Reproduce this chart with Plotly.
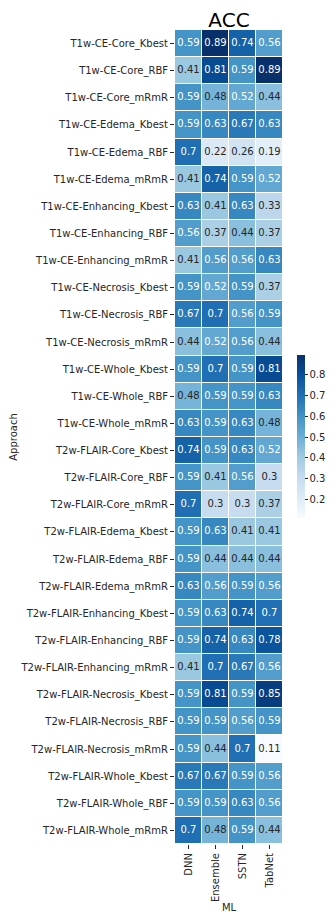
import plotly.graph_objects as go
import plotly.colors as pc

models = ["DNN", "Ensemble", "SSTN", "TabNet"]
approaches = [
    "T1w-CE-Core_Kbest", "T1w-CE-Core_RBF", "T1w-CE-Core_mRmR",
    "T1w-CE-Edema_Kbest", "T1w-CE-Edema_RBF", "T1w-CE-Edema_mRmR",
    "T1w-CE-Enhancing_Kbest", "T1w-CE-Enhancing_RBF", "T1w-CE-Enhancing_mRmR",
    "T1w-CE-Necrosis_Kbest", "T1w-CE-Necrosis_RBF", "T1w-CE-Necrosis_mRmR",
    "T1w-CE-Whole_Kbest", "T1w-CE-Whole_RBF", "T1w-CE-Whole_mRmR",
    "T2w-FLAIR-Core_Kbest", "T2w-FLAIR-Core_RBF", "T2w-FLAIR-Core_mRmR",
    "T2w-FLAIR-Edema_Kbest", "T2w-FLAIR-Edema_RBF", "T2w-FLAIR-Edema_mRmR",
    "T2w-FLAIR-Enhancing_Kbest", "T2w-FLAIR-Enhancing_RBF", "T2w-FLAIR-Enhancing_mRmR",
    "T2w-FLAIR-Necrosis_Kbest", "T2w-FLAIR-Necrosis_RBF", "T2w-FLAIR-Necrosis_mRmR",
    "T2w-FLAIR-Whole_Kbest", "T2w-FLAIR-Whole_RBF", "T2w-FLAIR-Whole_mRmR",
]
dnn = [0.59, 0.41, 0.59, 0.59, 0.7, 0.41, 0.63, 0.56, 0.41, 0.59, 0.67, 0.44, 0.59, 0.48, 0.63,
       0.74, 0.59, 0.7, 0.59, 0.59, 0.63, 0.59, 0.59, 0.41, 0.59, 0.59, 0.59, 0.67, 0.59, 0.7]
ensemble = [0.89, 0.81, 0.48, 0.63, 0.22, 0.74, 0.41, 0.37, 0.56, 0.52, 0.7, 0.52, 0.7, 0.59, 0.59,
            0.59, 0.41, 0.3, 0.63, 0.44, 0.56, 0.63, 0.74, 0.7, 0.81, 0.59, 0.44, 0.67, 0.59, 0.48]
sstn = [0.74, 0.59, 0.52, 0.67, 0.26, 0.59, 0.63, 0.44, 0.56, 0.59, 0.56, 0.56, 0.59, 0.59, 0.63,
        0.63, 0.56, 0.3, 0.41, 0.44, 0.59, 0.74, 0.63, 0.67, 0.59, 0.56, 0.7, 0.59, 0.63, 0.59]
tabnet = [0.56, 0.89, 0.44, 0.63, 0.19, 0.52, 0.33, 0.37, 0.63, 0.37, 0.59, 0.44, 0.81, 0.63, 0.48,
          0.52, 0.3, 0.37, 0.41, 0.44, 0.56, 0.7, 0.78, 0.56, 0.85, 0.59, 0.11, 0.56, 0.56, 0.44]
cbar_ticks = [0.2, 0.3, 0.4, 0.5, 0.6, 0.7, 0.8]

cols = [dnn, ensemble, sstn, tabnet]
z = [[cols[j][i] for j in range(4)] for i in range(len(approaches))]
zmin = min(min(c) for c in cols)
zmax = max(max(c) for c in cols)

FONT = "DejaVu Sans"
blues = pc.sequential.Blues
scale = [[i / (len(blues) - 1), c] for i, c in enumerate(blues)]

# page body has an 8px default margin; figure is sized so the page fits 335x921
W, H = 319, 905
L, T, PW, PH = 167, 22, 108, 814

fig = go.Figure()
fig.add_trace(go.Heatmap(
    z=z, x=models, y=approaches, zmin=zmin, zmax=zmax,
    colorscale=scale, xgap=1, ygap=1, hoverongaps=False,
    colorbar=dict(
        x=1.13, xanchor="left", y=0.5, yanchor="middle", xpad=0, ypad=0,
        thickness=8, lenmode="pixels", len=163, outlinewidth=0,
        tickvals=cbar_ticks, ticks="outside", ticklen=3, tickwidth=1,
        tickcolor="#262626", tickfont=dict(family=FONT, size=10, color="#262626"),
    ),
))

xs, ys, txt, tcol = [], [], [], []
for i, a in enumerate(approaches):
    for j, m in enumerate(models):
        v = z[i][j]
        xs.append(m)
        ys.append(a)
        txt.append(f"{v:g}")
        tcol.append("white" if v >= 0.5 else "#262626")
fig.add_trace(go.Scatter(
    x=xs, y=ys, mode="text", text=txt,
    textfont=dict(family=FONT, size=10, color=tcol),
    hoverinfo="skip", showlegend=False,
))

fig.update_layout(
    width=W, height=H,
    margin=dict(l=L, r=W - L - PW, t=T, b=H - T - PH, autoexpand=False),
    paper_bgcolor="white", plot_bgcolor="white",
    title=dict(text="ACC", x=(L + PW / 2) / W, xanchor="center",
               y=1 - 12 / H, yanchor="middle",
               font=dict(family=FONT, size=20, color="black")),
    font=dict(family=FONT, color="#262626"),
    xaxis=dict(
        type="category", tickangle=-90, ticks="outside", ticklen=4,
        automargin=False, range=[-0.5, len(models) - 0.5],
        tickcolor="#262626", tickfont=dict(family=FONT, size=10, color="#262626"),
        showgrid=False, zeroline=False, showline=False,
        title=dict(text="ML", font=dict(family=FONT, size=10, color="#262626"), standoff=4),
    ),
    yaxis=dict(
        type="category", ticks="outside", ticklen=4,
        automargin=False, range=[len(approaches) - 0.5, -0.5],
        tickcolor="#262626", tickfont=dict(family=FONT, size=10, color="#262626"),
        showgrid=False, zeroline=False, showline=False,
        title=dict(text="Approach", font=dict(family=FONT, size=10, color="#262626"), standoff=6),
    ),
)

fig.write_html("out.html")
